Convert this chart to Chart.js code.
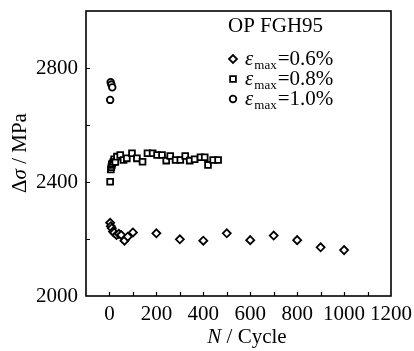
<!DOCTYPE html>
<html>
<head>
<meta charset="utf-8">
<script src="https://cdn.jsdelivr.net/npm/chart.js@4.4.1/dist/chart.umd.min.js"></script>
<style>
  html, body { margin: 0; padding: 0; background: #fff; }
  canvas { display: block; }
</style>
</head>
<body>
<canvas id="c" width="414" height="351"></canvas>
<script>
// Stress range vs. cycle count, OP FGH95 at three strain amplitudes
const cycles06 = [3, 6, 10, 15, 20, 30, 40, 50, 64, 78, 100, 200, 300, 400, 500, 600, 700, 800, 900, 1000];
const stress06 = [2257, 2245, 2238, 2226, 2222, 2214, 2218, 2214, 2194, 2208, 2223, 2220, 2199, 2194, 2220, 2196, 2212, 2196, 2171, 2161];

const cycles08 = [3, 6, 8, 10, 12, 17, 20, 25, 32, 46, 60, 74, 96, 117, 141, 162, 184, 203, 224, 242, 259, 282, 302, 323, 342, 363, 388, 406, 420, 442, 463];
const stress08 = [2401, 2444, 2452, 2460, 2465, 2471, 2480, 2470, 2489, 2495, 2477, 2483, 2501, 2483, 2471, 2501, 2501, 2495, 2495, 2475, 2491, 2477, 2477, 2491, 2475, 2480, 2487, 2487, 2460, 2477, 2477];

const cycles10 = [3, 5, 8, 12];
const stress10 = [2688, 2750, 2742, 2732];

const seriesLabels = ['=0.6%', '=0.8%', '=1.0%'];
const seriesSymbols = ['rectRot', 'rect', 'circle'];
const xTickLabels = [0, 200, 400, 600, 800, 1000, 1200];
const yTickLabels = [2000, 2400, 2800];

const SERIF = '"Liberation Serif", "DejaVu Serif", serif';
const FONT_SIZE = 21;

function toPoints(xs, ys) {
  return xs.map((x, i) => ({ x: x, y: ys[i] }));
}

const symbolRadius = { rectRot: 4, rect: 4.1, circle: 3.3 };

const datasets = [
  toPoints(cycles06, stress06),
  toPoints(cycles08, stress08),
  toPoints(cycles10, stress10)
].map((pts, i) => ({
  label: seriesLabels[i],
  data: pts,
  pointStyle: seriesSymbols[i],
  pointRadius: symbolRadius[seriesSymbols[i]],
  pointBorderWidth: 1.8,
  pointBorderColor: '#000',
  pointBackgroundColor: '#fff',
  showLine: false
}));

// Frame, inward tick marks, axis titles and the annotated legend
const decorations = {
  id: 'decorations',
  afterDraw(chart) {
    const { ctx, chartArea: a, scales: { x, y } } = chart;
    ctx.save();
    ctx.strokeStyle = '#000';
    ctx.lineWidth = 1.6;
    ctx.strokeRect(a.left, a.top, a.right - a.left, a.bottom - a.top);

    ctx.lineWidth = 1.2;
    ctx.beginPath();
    for (let v = 0; v <= 1100; v += 100) {
      const px = Math.round(x.getPixelForValue(v)) + 0.5;
      ctx.moveTo(px, a.bottom);
      ctx.lineTo(px, a.bottom - 4);
    }
    for (let v = 2200; v <= 2800; v += 200) {
      const py = Math.round(y.getPixelForValue(v)) + 0.5;
      ctx.moveTo(a.left, py);
      ctx.lineTo(a.left + 4, py);
    }
    ctx.stroke();

    ctx.fillStyle = '#000';
    ctx.textBaseline = 'middle';

    // y-axis title: Δσ / MPa
    const yParts = [['Δ', ''], ['σ', 'italic '], [' / MPa', '']];
    ctx.save();
    ctx.translate(20, 153);
    ctx.rotate(-Math.PI / 2);
    let total = 0;
    yParts.forEach(p => { ctx.font = p[1] + FONT_SIZE + 'px ' + SERIF; total += ctx.measureText(p[0]).width; });
    let cx = -total / 2;
    ctx.textAlign = 'left';
    yParts.forEach(p => {
      ctx.font = p[1] + FONT_SIZE + 'px ' + SERIF;
      ctx.fillText(p[0], cx, 0);
      cx += ctx.measureText(p[0]).width;
    });
    ctx.restore();

    // x-axis title: N / Cycle
    const xParts = [['N', 'italic '], [' / Cycle', '']];
    total = 0;
    xParts.forEach(p => { ctx.font = p[1] + FONT_SIZE + 'px ' + SERIF; total += ctx.measureText(p[0]).width; });
    cx = 247 - total / 2;
    ctx.textAlign = 'left';
    xParts.forEach(p => {
      ctx.font = p[1] + FONT_SIZE + 'px ' + SERIF;
      ctx.fillText(p[0], cx, 337);
      cx += ctx.measureText(p[0]).width;
    });

    // legend
    ctx.font = FONT_SIZE + 'px ' + SERIF;
    ctx.fillText('OP FGH95', 228, 26);
    const rowY = [59, 79, 99];
    chart.data.datasets.forEach((ds, i) => {
      const yy = rowY[i];
      ctx.lineWidth = ds.pointBorderWidth;
      ctx.strokeStyle = '#000';
      ctx.fillStyle = '#fff';
      Chart.helpers.drawPoint(ctx, {
        pointStyle: ds.pointStyle,
        radius: ds.pointRadius,
        borderWidth: ds.pointBorderWidth
      }, 233, yy);
      ctx.fillStyle = '#000';
      let tx = 245;
      ctx.font = 'italic ' + FONT_SIZE + 'px ' + SERIF;
      ctx.fillText('ε', tx, yy);
      tx += ctx.measureText('ε').width + 1;
      ctx.font = '13px ' + SERIF;
      ctx.fillText('max', tx, yy + 7);
      tx += ctx.measureText('max').width + 1;
      ctx.font = FONT_SIZE + 'px ' + SERIF;
      ctx.fillText(ds.label, tx, yy);
    });
    ctx.restore();
  }
};

new Chart(document.getElementById('c'), {
  type: 'scatter',
  data: { datasets: datasets },
  options: {
    responsive: false,
    animation: false,
    devicePixelRatio: 1,
    layout: { padding: { left: 0, right: 23, top: 11, bottom: 0 } },
    plugins: { legend: { display: false }, tooltip: { enabled: false } },
    scales: {
      x: {
        type: 'linear',
        min: -100,
        max: 1200,
        afterFit(s) { s.height = 55; s.paddingLeft = 0; s.paddingRight = 0; },
        grid: { display: false, drawTicks: false },
        border: { display: false },
        ticks: {
          stepSize: 100,
          autoSkip: false,
          maxRotation: 0,
          padding: 6,
          color: '#000',
          font: { family: SERIF, size: FONT_SIZE },
          callback: v => (xTickLabels.includes(v) ? String(v) : '')
        }
      },
      y: {
        type: 'linear',
        min: 2000,
        max: 3000,
        afterFit(s) { s.width = 86; s.paddingTop = 0; s.paddingBottom = 0; },
        grid: { display: false, drawTicks: false },
        border: { display: false },
        ticks: {
          stepSize: 200,
          autoSkip: false,
          padding: 8,
          color: '#000',
          font: { family: SERIF, size: FONT_SIZE },
          callback: v => (yTickLabels.includes(v) ? String(v) : '')
        }
      }
    }
  },
  plugins: [decorations]
});
</script>
</body>
</html>
